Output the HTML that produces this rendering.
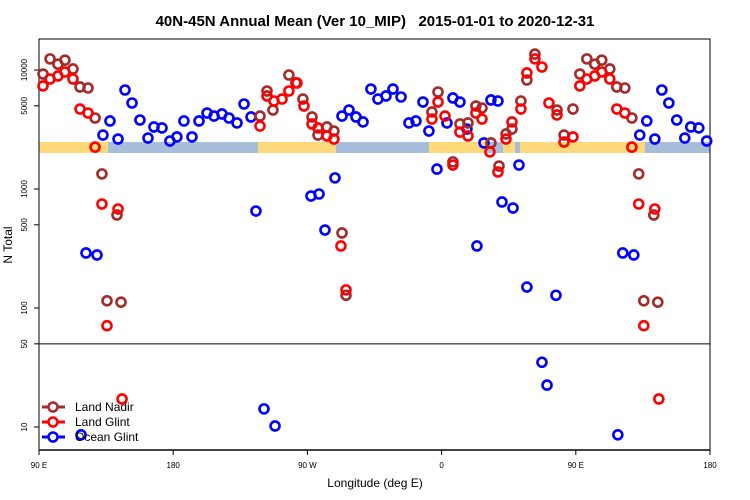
<!DOCTYPE html>
<html><head><meta charset="utf-8"><style>
html,body{margin:0;padding:0;background:#fff;}
svg{display:block;font-family:"Liberation Sans",sans-serif;}
</style></head><body>
<svg id="chart" width="750" height="500" viewBox="0 0 750 500">
<text x="375" y="26" text-anchor="middle" font-size="15" font-weight="bold">40N-45N Annual Mean (Ver 10_MIP)&#160;&#160;&#160;2015-01-01 to 2020-12-31</text>
<g id="band"></g>
<g id="axes"></g>
<g id="marks"></g>
<text x="375" y="487" text-anchor="middle" font-size="12">Longitude (deg E)</text>
<text transform="translate(12,245) rotate(-90)" text-anchor="middle" font-size="12">N Total</text>
<g>
 <g><line x1="42" y1="407" x2="65" y2="407" stroke="#A52A2A" stroke-width="3"/><circle cx="53" cy="407" r="4.5" fill="#fff" stroke="#A52A2A" stroke-width="2.5"/><text x="75" y="411" font-size="12">Land Nadir</text></g>
 <g><line x1="42" y1="422" x2="65" y2="422" stroke="#FF0000" stroke-width="3"/><circle cx="53" cy="422" r="4.5" fill="#fff" stroke="#FF0000" stroke-width="2.5"/><text x="75" y="426" font-size="12">Land Glint</text></g>
 <g><line x1="42" y1="437" x2="65" y2="437" stroke="#0000FF" stroke-width="3"/><circle cx="53" cy="437" r="4.5" fill="#fff" stroke="#0000FF" stroke-width="2.5"/><text x="75" y="441" font-size="12">Ocean Glint</text></g>
</g>
</svg>
<script>
const nadirLon=[92.7,97.4,102.7,107.4,112.8,117.5,122.9,127.6,132.2,135.6,142.3,145,238.2,242.9,246.9,257.6,262.3,267,273.1,277.1,283.1,287.8,293.2,295.9,353.5,357.6,367.6,372.3,377.7,383,387.1,393.1,398.5,403.2,407.2,413.2,417.2,422.6,437.4,442.1,448.1];
const nadirVal=[9250,12400,11200,12100,10200,7200,7060,3950,1340,115,605,112,4100,6660,4610,9080,7800,5700,4030,2840,3320,3070,427,128,4440,6530,1690,3520,3590,4980,4790,2440,1560,2900,3190,5490,8240,13600,4610,2840,4700];
const glintLon=[92.7,97.4,102.7,107.4,112.8,117.5,122.9,127.6,132.2,135.6,143,145.7,238.2,242.9,247.6,253,257.6,263,267.7,273.1,277.1,283.1,287.8,292.5,295.9,353.5,357.6,362.3,367.6,372.3,377.7,383,387.1,392.4,397.8,403.2,407.2,413.2,417.2,422.6,427.3,432,437.4,442.1,448.1];
const glintVal=[7350,8400,8910,9620,8400,4700,4350,2250,748,71,679,17.2,3380,6050,5490,5700,6660,7780,4980,3520,3260,2790,2630,332,142,3870,5380,4100,1590,3010,2790,4350,3870,2050,1390,2630,3660,4700,9440,12400,10600,5280,4190,2480,2740];
const oceanLon=[118.2,121.5,128.9,132.9,137.6,143,147.7,152.4,157.7,163.1,167.1,172.5,177.8,182.5,187.2,192.6,197.3,202.7,207.4,212.7,217.4,222.8,227.5,232.2,235.5,240.9,248.3,272.4,277.8,281.8,288.5,293.2,297.9,302.6,307.3,312.6,317.3,322.7,327.4,332.8,338.1,342.8,347.5,351.5,356.9,363.6,367.6,372.3,377,383.7,388.4,393.1,397.8,400.5,407.9,411.9,417.2,427.3,430.7,436.7];
const oceanVal=[8.6,290,279,2840,3730,2630,6790,5280,3800,2680,3320,3260,2530,2740,3730,2740,3730,4350,4100,4270,3950,3590,5180,4030,653,14.2,10.2,873,908,452,1240,4100,4610,4030,3660,6920,5700,6050,6920,5930,3590,3730,5380,3070,1470,3590,5820,5380,3190,332,2440,5600,5490,778,692,1590,150,35,22.5,128];
const yTicks=[10000,5000,1000,500,100,50,10];
const xTickLon=[90,180,270,360,450,540];
const xTickLabels=["90 E","180","90 W","0","90 E","180"];

const NS='http://www.w3.org/2000/svg';
const X0=39,X1=710,Y0=39,Y1=450;
const xs=l=>X0+(l-90)*(X1-X0)/450;
const ys=v=>427-119*Math.log10(v/10);
function mk(t,a,p){const e=document.createElementNS(NS,t);for(const k in a)e.setAttribute(k,a[k]);p.appendChild(e);return e;}
const band=document.getElementById('band'),axes=document.getElementById('axes'),marks=document.getElementById('marks');
mk('rect',{x:X0,y:142,width:X1-X0,height:11,fill:'#A6BDDB'},band);
[[39,108],[258,336],[429,487],[503,515],[520,645]].forEach(s=>{
 const r=mk('rect',{x:s[0],y:142,width:s[1]-s[0],height:11,fill:'#FFD979'},band);
 
 
});
mk('rect',{x:X0,y:Y0,width:X1-X0,height:Y1-Y0,fill:'none',stroke:'#000','stroke-width':1},axes);
mk('line',{x1:X0,y1:Y1,x2:X1,y2:Y1,stroke:'#444','stroke-width':2},axes);
mk('line',{x1:X0,y1:ys(50),x2:X1,y2:ys(50),stroke:'#000','stroke-width':1},axes);
yTicks.forEach(v=>{
 const y=ys(v);
 mk('line',{x1:X0-5,y1:y,x2:X0,y2:y,stroke:'#000'},axes);
 const t=mk('text',{transform:`translate(27,${y}) rotate(-90)`,'text-anchor':'middle','font-size':8},axes);
 t.textContent=v;
 
 
});
xTickLon.forEach((l,i)=>{
 const x=xs(l);
 mk('line',{x1:x,y1:Y1,x2:x,y2:Y1+5,stroke:'#000'},axes);
 const t=mk('text',{x:x,y:468,'text-anchor':'middle','font-size':8},axes);
 t.textContent=xTickLabels[i];
 
 
});
function series(lons,vals,col,name){
 lons.forEach((l,i)=>{
  [l,l+360].forEach(ll=>{
   if(ll>542) return;
   const c=mk('circle',{cx:xs(ll),cy:ys(vals[i]),r:4.5,fill:'none',stroke:col,'stroke-width':2.6},marks);
   
   
  });
 });
}
series(oceanLon,oceanVal,'#0000FF','ocean-glint');
series(nadirLon,nadirVal,'#A52A2A','land-nadir');
series(glintLon,glintVal,'#FF0000','land-glint');
</script>
</body></html>
